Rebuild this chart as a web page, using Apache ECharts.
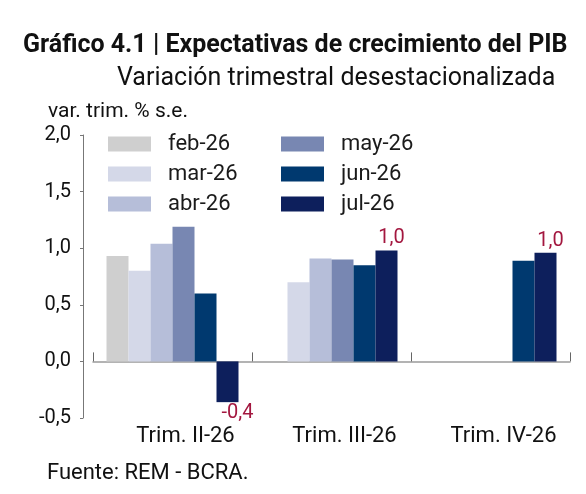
<!DOCTYPE html>
<html>
<head>
<meta charset="utf-8">
<script src="https://cdn.jsdelivr.net/npm/echarts@6/dist/echarts.min.js"></script>
<style>
    html, body { margin: 0; padding: 0; background: #fff; }
    #chart { width: 586px; height: 494px; }
</style>
</head>
<body>
<div id="chart"></div>
<script>
// trimestres
const categories = ['Trim. II-26', 'Trim. III-26', 'Trim. IV-26'];

// expectativas por fecha de relevamiento
const feb26 = [0.93, null, null];
const mar26 = [0.80, 0.70, null];
const abr26 = [1.04, 0.91, null];
const may26 = [1.19, 0.90, null];
const jun26 = [0.60, 0.85, 0.89];
const jul26 = [-0.36, 0.98, 0.96];

const seriesNames = ['feb-26', 'mar-26', 'abr-26', 'may-26', 'jun-26', 'jul-26'];
const seriesData = [feb26, mar26, abr26, may26, jun26, jul26];
const colors = ['#cfcfcf', '#d4d8e8', '#b6bed9', '#7887b2', '#00396f', '#0d1f5c'];

const yTicks = { min: -0.5, max: 2.0, interval: 0.5 };

const font = 'Roboto, "Noto Sans", sans-serif';
const coma = v => v.toFixed(1).replace('.', ',');

const chart = echarts.init(document.getElementById('chart'));

const series = seriesNames.map((name, i) => {
    const s = {
        name,
        type: 'bar',
        data: seriesData[i],
        barWidth: 22,
        barGap: '0%',
        itemStyle: { color: colors[i] }
    };
    // solo la última encuesta lleva etiqueta
    if (name === 'jul-26') {
        s.data = seriesData[i].map(v => {
            if (v === null) return v;
            return {
                value: v,
                label: v < 0
                    ? { position: 'bottom', distance: 1, offset: [10, 0] }
                    : { position: 'top', distance: 2, offset: [5, 0] }
            };
        });
        s.label = {
            show: true,
            color: '#a3173f',
            fontFamily: font,
            fontSize: 20,
            formatter: p => coma(p.value)
        };
    }
    return s;
});

const legendBase = {
    orient: 'vertical',
    top: 128,
    itemWidth: 43,
    itemHeight: 15,
    itemGap: 8,
    icon: 'rect',
    textStyle: { fontFamily: font, fontSize: 22, color: '#1a1a1a', padding: [0, 0, 0, 12] }
};

chart.setOption({
    animation: false,
    color: colors,
    title: [
        {
            text: 'Gráfico 4.1 | Expectativas de crecimiento del PIB',
            left: 18, top: 28,
            textStyle: { fontFamily: font, fontSize: 25, fontWeight: 'bold', color: '#111' }
        },
        {
            text: 'Variación trimestral desestacionalizada',
            left: 112, top: 61,
            textStyle: { fontFamily: font, fontSize: 25, fontWeight: 'normal', color: '#111' }
        },
        {
            text: 'var. trim. % s.e.',
            left: 43, top: 96,
            textStyle: { fontFamily: font, fontSize: 21, fontWeight: 'normal', color: '#111' }
        },
        {
            text: 'Fuente: REM - BCRA.',
            left: 42, top: 457,
            textStyle: { fontFamily: font, fontSize: 22, fontWeight: 'normal', color: '#111' }
        }
    ],
    legend: [
        Object.assign({}, legendBase, { left: 103, data: seriesNames.slice(0, 3) }),
        Object.assign({}, legendBase, { left: 276, data: seriesNames.slice(3) })
    ],
    grid: { left: 93, right: 16, top: 135, bottom: 76, outerBoundsMode: 'none' },
    xAxis: {
        type: 'category',
        data: categories,
        axisLine: { onZero: true, lineStyle: { color: '#9a9a9a', width: 1.5 } },
        axisTick: { show: true, inside: true, length: 9, lineStyle: { color: '#666' } },
        axisLabel: {
            margin: 7,
            padding: [0, 0, 0, 26],
            fontFamily: font, fontSize: 22, color: '#111'
        }
    },
    yAxis: {
        type: 'value',
        min: yTicks.min,
        max: yTicks.max,
        interval: yTicks.interval,
        offset: 10,
        splitLine: { show: false },
        axisLine: { show: true, lineStyle: { color: '#777' } },
        axisTick: { show: true, length: 3, lineStyle: { color: '#777' } },
        axisLabel: {
            margin: 12,
            fontFamily: font, fontSize: 20, color: '#111',
            formatter: v => coma(v)
        }
    },
    series
});
</script>
</body>
</html>
